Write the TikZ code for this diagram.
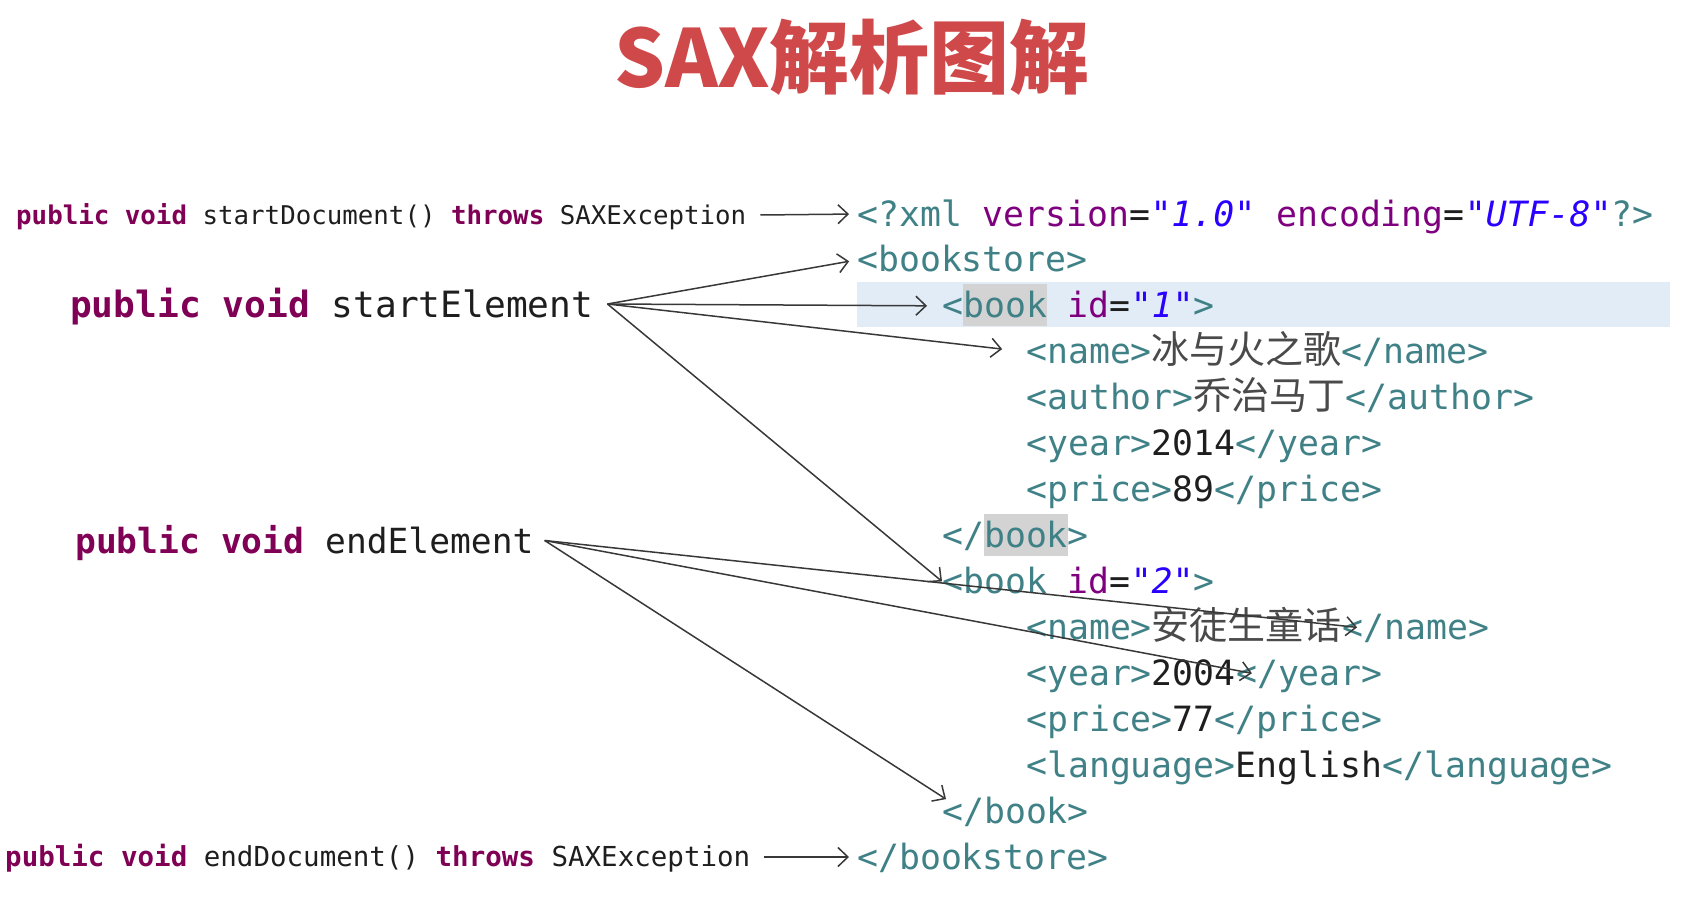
\documentclass[tikz,border=0pt]{standalone}
\usepackage{fontspec}
\usetikzlibrary{arrows.meta,positioning}
\newfontfamily\codefont{DejaVu Sans Mono}
\newfontfamily\cjk{Noto Sans CJK SC}
\definecolor{kwcol}{HTML}{7F0055}
\definecolor{tagcol}{HTML}{3F8186}
\definecolor{attcol}{HTML}{7F007F}
\definecolor{valcol}{HTML}{2A00FF}
\definecolor{txtcol}{HTML}{1E1E1E}
\definecolor{hancol}{HTML}{4A4A4A}
\definecolor{titcol}{HTML}{D0494A}
\definecolor{rowblue}{HTML}{E2ECF7}
\definecolor{selgray}{HTML}{D3D3D3}
\definecolor{arrcol}{HTML}{383838}
\newcommand\kw[1]{\textcolor{kwcol}{\bfseries #1}}
\newcommand\tg[1]{\textcolor{tagcol}{#1}}
\newcommand\att[1]{\textcolor{attcol}{#1}}
\newcommand\val[1]{\textcolor{valcol}{\itshape #1}}
\newcommand\han[1]{{\cjk\fontsize{38pt}{46pt}\selectfont\textcolor{hancol}{#1}}}
\newcommand\sel[1]{{\fboxsep=0pt\colorbox{selgray}{\rule[-8pt]{0pt}{42pt}#1}}}

\begin{document}
\begin{tikzpicture}[
  x=1pt,y=-1pt,
  xml/.style={anchor=base west,inner sep=0pt,text height=32pt,text depth=8pt,
    text=txtcol,font=\codefont\fontsize{34.8pt}{46pt}\selectfont},
  code/.style={anchor=base west,inner sep=0pt,text=txtcol},
  arr/.style={draw=arrcol,line width=1.5pt,-{Straight Barb[length=10pt,width=19pt]}}
]
  \useasboundingbox (0,0) rectangle (1686,904);
  \fill[rowblue] (857,282) rectangle (1670,327);

  \node[font=\cjk\bfseries\fontsize{80pt}{90pt}\selectfont,text=titcol] (title) at (852,57) {SAX解析图解};

  \node[code,font=\codefont\fontsize{25.8pt}{30pt}\selectfont,text height=25pt,text depth=7pt] (sdoc) at (16,224)
    {\kw{public} \kw{void} startDocument() \kw{throws} SAXException};
  \node[code,font=\codefont\fontsize{36.2pt}{42pt}\selectfont,text height=34pt,text depth=8pt] (selem) at (70,317)
    {\kw{public} \kw{void} startElement};
  \node[code,font=\codefont\fontsize{34.6pt}{40pt}\selectfont,text height=33pt,text depth=8pt] (eelem) at (75,553)
    {\kw{public} \kw{void} endElement};
  \node[code,font=\codefont\fontsize{27.5pt}{32pt}\selectfont,text height=26pt,text depth=8pt] (edoc) at (5,866)
    {\kw{public} \kw{void} endDocument() \kw{throws} SAXException};
  \coordinate[right=14pt of sdoc] (sdocout);
  \coordinate[right=14pt of selem] (selout);
  \coordinate[right=11pt of eelem] (eelout);
  \coordinate[right=14pt of edoc] (edocout);

  \node[xml] (decl) at (857,226) {\tg{<?xml} \att{version}=\val{"1.0"} \att{encoding}=\val{"UTF-8"}\tg{?>}};
  \node[xml] (bkst) at (857,271.9) {\tg{<bookstore>}};
  \node[xml] (book1) at (942,317.9) {\tg{<\sel{book}} \att{id}=\val{"1"}\tg{>}};
  \node[xml] (name1) at (1026,363.8) {\tg{<name>}\han{冰与火之歌}\tg{</name>}};
  \node[xml] (auth1) at (1026,409.7) {\tg{<author>}\han{乔治马丁}\tg{</author>}};
  \node[xml] (year1) at (1026,455.7) {\tg{<year>}2014\tg{</year>}};
  \node[xml] (price1) at (1026,501.6) {\tg{<price>}89\tg{</price>}};
  \node[xml] (bkend1) at (942,547.5) {\tg{</\sel{book}>}};
  \node[xml] (book2) at (942,593.4) {\tg{<book} \att{id}=\val{"2"}\tg{>}};
  \node[xml] (name2) at (1026,639.4) {\tg{<name>}\han{安徒生童话}};
  \node[xml] (name2c) at (name2.base east) {\tg{</name>}};
  \node[xml] (year2) at (1026,685.3) {\tg{<year>}2004};
  \node[xml] (year2c) at (year2.base east) {\tg{</year>}};
  \node[xml] (price2) at (1026,731.2) {\tg{<price>}77\tg{</price>}};
  \node[xml] (lang2) at (1026,777.2) {\tg{<language>}English\tg{</language>}};
  \node[xml] (bkend2) at (942,823.1) {\tg{</book>}};
  \node[xml] (bkstend) at (857,869) {\tg{</bookstore>}};

  \draw[arr,shorten >=8pt] (sdocout) -- (decl.west);
  \draw[arr,shorten >=8pt] (selout) -- (bkst.west);
  \draw[arr,shorten >=15pt] (selout) -- (book1.west);
  \draw[arr,shorten >=24pt] (selout) -- (name1.west);
  \draw[arr] (selout) -- (book2.west);
  \draw[arr] (eelout) -- ([xshift=15pt]name2c.west);
  \draw[arr] (eelout) -- ([xshift=16pt]year2c.west);
  \draw[arr] (eelout) -- ([xshift=4pt,yshift=12pt]bkend2.west);
  \draw[arr,shorten >=8pt] (edocout) -- (bkstend.west);
\end{tikzpicture}
\end{document}
